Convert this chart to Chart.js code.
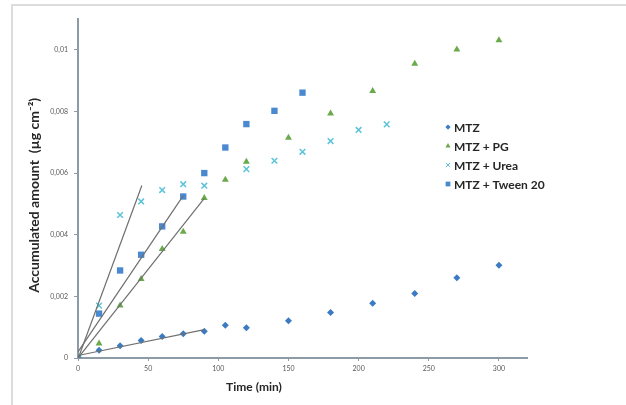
<!DOCTYPE html>
<html>
<head>
<meta charset="utf-8">
<script src="https://cdn.jsdelivr.net/npm/chart.js@4.4.1/dist/chart.umd.min.js"></script>
<style>
  html, body { margin: 0; padding: 0; background: #fff; }
  #wrap { position: relative; width: 626px; height: 405px; overflow: hidden; }
  #frame { position: absolute; left: 11px; top: 4px; right: -10px; bottom: -10px;
           border-top: 2px solid #dcdcdc; border-left: 2px solid #dcdcdc; }
  #chart { position: absolute; left: 0; top: 0; }
</style>
</head>
<body>
<div id="wrap">
  <div id="frame"></div>
  <canvas id="chart" width="626" height="405"></canvas>
</div>
<script>
// values (time in min, amount in ug/cm2)
const seriesNames = ["MTZ", "MTZ + PG", "MTZ + Urea", "MTZ + Tween 20"];

const mtzTime   = [0, 15, 30, 45, 60, 75, 90, 105, 120, 150, 180, 210, 240, 270, 300];
const mtzValues = [0, 0.00025, 0.0004, 0.00057, 0.0007, 0.00079, 0.00087, 0.00106, 0.00098, 0.00121, 0.00148, 0.00178, 0.00209, 0.0026, 0.00301];

const pgTime   = [0, 15, 30, 45, 60, 75, 90, 105, 120, 150, 180, 210, 240, 270, 300];
const pgValues = [0, 0.00047, 0.0017, 0.00256, 0.00354, 0.0041, 0.00519, 0.00578, 0.00637, 0.00715, 0.00793, 0.00866, 0.00955, 0.01001, 0.01031];

const ureaTime   = [0, 15, 30, 45, 60, 75, 90, 120, 140, 160, 180, 200, 220];
const ureaValues = [0, 0.0017, 0.00464, 0.00508, 0.00545, 0.00564, 0.00559, 0.00613, 0.0064, 0.00669, 0.00704, 0.0074, 0.00758];

const tweenTime   = [0, 15, 30, 45, 60, 75, 90, 105, 120, 140, 160];
const tweenValues = [0, 0.00144, 0.00284, 0.00335, 0.00427, 0.00524, 0.006, 0.00683, 0.00759, 0.00802, 0.00861];

// linear fits of the initial part (start / end of each grey line)
const mtzTrendTime   = [0, 90];
const mtzTrendValues = [0.00008, 0.00092];
const pgTrendTime    = [0, 90];
const pgTrendValues  = [0, 0.00518];
const ureaTrendTime   = [1, 45.5];
const ureaTrendValues = [0.0001, 0.0056];
const tweenTrendTime   = [0, 75];
const tweenTrendValues = [0.0002, 0.00527];

const timeTicks = [0, 50, 100, 150, 200, 250, 300];
const amountTicks = [0, 0.002, 0.004, 0.006, 0.008, 0.01];
const amountTickLabels = ["0", "0,002", "0,004", "0,006", "0,008", "0,01"];

(function(){

    const AXIS_COLOR = "#8c9ba5";
    const TEXT_COLOR = "#262626";
    const FONT = "Lato";

    function _toPoints(times, values){
        return times.map(function(t, i){ return {x: t, y: values[i]}; });
    }

    function _pointSet(label, times, values, style, radius, color){
        return {
            label: label,
            data: _toPoints(times, values),
            pointStyle: style,
            pointRadius: radius,
            backgroundColor: color,
            borderColor: color,
            borderWidth: style === "crossRot" ? 1.5 : 0,
            showLine: false,
            order: 0
        };
    }

    function _trendSet(times, values){
        return {
            label: "trend",
            data: _toPoints(times, values),
            showLine: true,
            pointRadius: 0,
            borderColor: "#6f6f6f",
            borderWidth: 1.2,
            order: -1
        };
    }

    const pointSets = [
        _pointSet(seriesNames[0], mtzTime, mtzValues, "rectRot", 3.5, "#3b7bc4"),
        _pointSet(seriesNames[1], pgTime, pgValues, "triangle", 4, "#6aaa4c"),
        _pointSet(seriesNames[2], ureaTime, ureaValues, "crossRot", 4, "#5cc3d8"),
        _pointSet(seriesNames[3], tweenTime, tweenValues, "rect", 4.5, "#4a89cf")
    ];

    const trendSets = [
        _trendSet(mtzTrendTime, mtzTrendValues),
        _trendSet(pgTrendTime, pgTrendValues),
        _trendSet(ureaTrendTime, ureaTrendValues),
        _trendSet(tweenTrendTime, tweenTrendValues)
    ];

    // legend sits inside the plot area and x title is off-centre, so both are drawn here
    const sideLegend = {
        id: "sideLegend",
        afterDraw: function(chart){
            const ctx = chart.ctx;
            ctx.save();
            ctx.font = "bold 12px " + FONT;
            ctx.textBaseline = "middle";
            for(let i = 0; i < seriesNames.length; i++){
                const ds = chart.data.datasets[i];
                const y = 127 + i * 19;
                ctx.fillStyle = ds.backgroundColor;
                ctx.strokeStyle = ds.borderColor;
                ctx.lineWidth = 1;
                Chart.helpers.drawPoint(ctx, {
                    pointStyle: ds.pointStyle,
                    radius: ds.pointRadius * 0.75,
                    borderWidth: ds.borderWidth,
                    rotation: 0
                }, 448, y);
                ctx.fillStyle = TEXT_COLOR;
                ctx.textAlign = "left";
                ctx.fillText(seriesNames[i], 454, y + 1);
            }
            ctx.font = "bold 12px " + FONT;
            ctx.textAlign = "center";
            ctx.fillStyle = TEXT_COLOR;
            ctx.fillText("Time (min)", 254, 387);
            ctx.restore();
        }
    };

    new Chart(document.getElementById("chart").getContext("2d"), {
        type: "scatter",
        data: { datasets: pointSets.concat(trendSets) },
        plugins: [sideLegend],
        options: {
            responsive: false,
            animation: false,
            events: [],
            layout: { padding: { left: 0, right: 99, top: 19, bottom: 0 } },
            plugins: {
                legend: { display: false },
                tooltip: { enabled: false }
            },
            scales: {
                x: {
                    type: "linear",
                    min: 0,
                    max: 320,
                    afterBuildTicks: function(scale){
                        scale.ticks = timeTicks.map(function(v){ return {value: v}; });
                    },
                    afterFit: function(scale){ scale.height = 47; },
                    border: { color: AXIS_COLOR, width: 2 },
                    grid: { drawOnChartArea: false, drawTicks: true, tickLength: 3, tickColor: AXIS_COLOR },
                    ticks: {
                        color: "#595959",
                        padding: 4,
                        maxRotation: 0,
                        font: { family: FONT, size: 7 },
                        callback: function(v){ return v; }
                    }
                },
                y: {
                    type: "linear",
                    min: 0,
                    max: 0.011,
                    afterBuildTicks: function(scale){
                        scale.ticks = amountTicks.map(function(v){ return {value: v}; });
                    },
                    afterFit: function(scale){ scale.width = 78; },
                    border: { color: AXIS_COLOR, width: 2 },
                    grid: { drawOnChartArea: false, drawTicks: true, tickLength: 4, tickColor: AXIS_COLOR },
                    ticks: {
                        color: "#595959",
                        padding: 6,
                        font: { family: FONT, size: 7 },
                        callback: function(v, i){ return amountTickLabels[i]; }
                    },
                    title: {
                        display: true,
                        // trailing spaces nudge the centred title down like the original
                        text: "Accumulated amount  (µg cm⁻²)    ",
                        color: TEXT_COLOR,
                        font: { family: FONT, size: 14, weight: "bold" },
                        padding: { top: 26, bottom: 0 }
                    }
                }
            }
        }
    });

})();
</script>
</body>
</html>
